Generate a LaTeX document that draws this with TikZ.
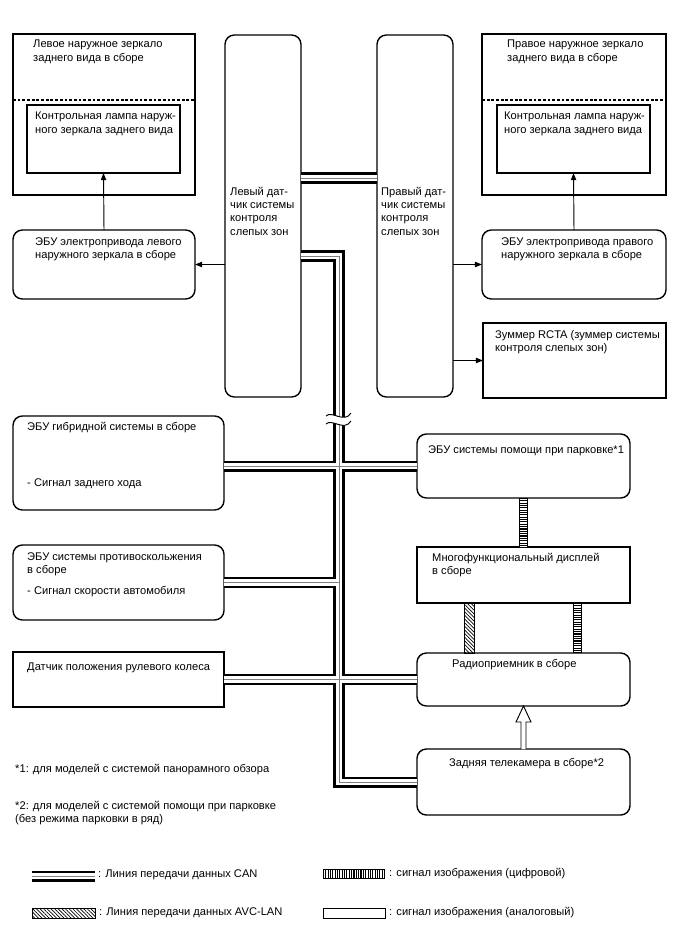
\documentclass[tikz,border=0pt]{standalone}
\usepackage{fontspec}
\setmainfont{Liberation Sans}
\usetikzlibrary{arrows.meta, calc, patterns.meta}
\newlength{\unitpx}
\setlength{\unitpx}{0.03cm}

\begin{document}
\begin{tikzpicture}[
  x=0.03cm, y=-0.03cm,
  font=\fontsize{9.5}{11.3}\selectfont,
  box/.style={draw, line width=1.2pt, inner sep=0pt, outer sep=0pt, anchor=north west},
  rbox/.style={box, rounded corners=8pt},
  lbl/.style={anchor=north west, inner sep=0pt, align=left},
  divider/.style={line width=1.2pt, dash pattern=on 2.4pt off 1.6pt},
  arr/.style={-{Triangle[length=6pt, width=4.5pt]}, line width=0.8pt},
  can/.style={draw=white, line width=5.4pt,
              preaction={draw=black, line width=9.4pt},
              postaction={draw=gray, line width=0.8pt}},
  dig/.style={draw=black, line width=6.8pt, dash pattern=on 0.9pt off 1.1pt,
              preaction={draw=black, solid, line width=8.4pt},
              preaction={draw=white, solid, line width=6.8pt}},
  avc/.style={draw, line width=0.8pt,
              pattern={Lines[angle=-45, distance=2.2pt, line width=0.6pt]}},
  ana/.style={draw, line width=0.8pt, fill=white}
]
\useasboundingbox (0,0) rectangle (688,949);

\node[box, minimum width=182\unitpx, minimum height=161\unitpx] (lmir) at (13,34) {};
\node[box, minimum width=153\unitpx, minimum height=68\unitpx] (llamp) at (27,105) {};
\node[rbox, minimum width=182\unitpx, minimum height=69\unitpx] (lecu) at (13,230) {};
\node[rbox, minimum width=76\unitpx, minimum height=362\unitpx] (lsens) at (225,35) {};
\node[rbox, minimum width=76\unitpx, minimum height=362\unitpx] (rsens) at (377,35) {};
\node[box, minimum width=184\unitpx, minimum height=161\unitpx] (rmir) at (482,34) {};
\node[box, minimum width=153\unitpx, minimum height=68\unitpx] (rlamp) at (497,105) {};
\node[rbox, minimum width=184\unitpx, minimum height=69\unitpx] (recu) at (482,230) {};
\node[box, minimum width=183\unitpx, minimum height=75\unitpx] (buzz) at (483,323) {};

\node[rbox, minimum width=211\unitpx, minimum height=94\unitpx] (hyb) at (13,416) {};
\node[rbox, minimum width=211\unitpx, minimum height=75\unitpx] (abs) at (13,545) {};
\node[box, minimum width=211\unitpx, minimum height=55\unitpx] (steer) at (13,652) {};
\node[rbox, minimum width=213\unitpx, minimum height=64\unitpx] (park) at (417,434) {};
\node[box, minimum width=213\unitpx, minimum height=56\unitpx] (disp) at (417,547) {};
\node[rbox, minimum width=213\unitpx, minimum height=53\unitpx] (radio) at (417,653) {};
\node[rbox, minimum width=213\unitpx, minimum height=66\unitpx] (cam) at (417,749) {};

\node[lbl] (lmir-t) at (33,40) {Левое наружное зеркало\\заднего вида в сборе};
\node[lbl] (llamp-t) at (35,112) {Контрольная лампа наруж-\\ного зеркала заднего вида};
\node[lbl] (lecu-t) at (35,237) {ЭБУ электропривода левого\\наружного зеркала в сборе};
\node[lbl] (lsens-t) at (230,187) {Левый дат-\\чик системы\\контроля\\слепых зон};
\node[lbl] (rsens-t) at (381,187) {Правый дат-\\чик системы\\контроля\\слепых зон};
\node[lbl] (rmir-t) at (507,40) {Правое наружное зеркало\\заднего вида в сборе};
\node[lbl] (rlamp-t) at (504,112) {Контрольная лампа наруж-\\ного зеркала заднего вида};
\node[lbl] (recu-t) at (501,237) {ЭБУ электропривода правого\\наружного зеркала в сборе};
\node[lbl] (buzz-t) at (495,330) {Зуммер RCTA (зуммер системы\\контроля слепых зон)};
\node[lbl] (hyb-t) at (27,422) {ЭБУ гибридной системы в сборе};
\node[lbl] (hyb-s) at (27,478) {- Сигнал заднего хода};
\node[lbl] (abs-t) at (27,552) {ЭБУ системы противоскольжения\\в сборе\\[7pt]- Сигнал скорости автомобиля};
\node[lbl] (steer-t) at (27,663) {Датчик положения рулевого колеса};
\node[lbl] (park-t) at (428,445) {ЭБУ системы помощи при парковке*1};
\node[lbl] (disp-t) at (432,553) {Многофункциональный дисплей\\в сборе};
\node[lbl] (radio-t) at (452,659) {Радиоприемник в сборе};
\node[lbl] (cam-t) at (449,758) {Задняя телекамера в сборе*2};

\draw[divider] ([yshift=-66\unitpx]lmir.north west) -- ([yshift=-66\unitpx]lmir.north east);
\draw[divider] ([yshift=-66\unitpx]rmir.north west) -- ([yshift=-66\unitpx]rmir.north east);

\draw[arr] (lecu.north) -- (llamp.south);
\draw[arr] (lsens.west |- lecu.east) -- (lecu.east);
\draw[arr] (recu.north) -- (rlamp.south);
\draw[arr] (rsens.east |- recu.west) -- (recu.west);
\draw[arr] (rsens.east |- buzz.west) -- (buzz.west);

\coordinate (bus) at (339,256);
\draw[can] ([yshift=38\unitpx]lsens.east) -- ([yshift=38\unitpx]rsens.west)
  ([yshift=-40\unitpx]lsens.east) -| (bus |- cam.west) -- (cam.west)
  (hyb.east |- park.west) -- (park.west)
  (abs.east) -- (bus |- abs.east)
  (steer.east) -- (radio.west);

\begin{scope}[shift={(339,420)}]
  \fill[white] (-13,-4) .. controls (-7,-10) and (5,4) .. (12,-7)
    -- (12,1) .. controls (5,12) and (-7,-2) .. (-13,4) -- cycle;
  \draw[line width=0.8pt] (-13,-4) .. controls (-7,-10) and (5,4) .. (12,-7);
  \draw[line width=0.8pt] (-13,4) .. controls (-7,-2) and (5,12) .. (12,1);
\end{scope}

\draw[dig] (park.south) -- (disp.north);
\draw[dig] ($(disp.south)+(54,0)$) -- ($(radio.north)+(54,0)$);
\draw[avc] ($(disp.south)+(-59,0)$) rectangle ($(radio.north)+(-49,0)$);
\draw[ana] ($(cam.north)+(-2.5,0)$) -- ($(radio.south)+(-2.5,16)$)
  -- ($(radio.south)+(-7.5,16)$) -- (radio.south) -- ($(radio.south)+(7.5,16)$)
  -- ($(radio.south)+(2.5,16)$) -- ($(cam.north)+(2.5,0)$);

\node[lbl] (fn1) at (15,764) {*1: для моделей с системой панорамного обзора};
\node[lbl] (fn2) at (15,801) {*2: для моделей с системой помощи при парковке\\(без режима парковки в ряд)};

\coordinate (lg-can-a) at (32,876);
\coordinate (lg-can-b) at (95,876);
\coordinate (lg-dig-a) at (323,874);
\coordinate (lg-dig-b) at (385,874);
\coordinate (lg-avc-a) at (32,908);
\coordinate (lg-avc-b) at (95,918);
\coordinate (lg-ana-a) at (323,908);
\coordinate (lg-ana-b) at (385,918);
\draw[can] (lg-can-a) -- (lg-can-b);
\draw[dig] (lg-dig-a) -- (lg-dig-b);
\draw[avc] (lg-avc-a) rectangle (lg-avc-b);
\draw[ana] (lg-ana-a) rectangle (lg-ana-b);
\node[lbl, anchor=west] (lg-can-t) at (98,875) {: Линия передачи данных CAN};
\node[lbl, anchor=west] (lg-dig-t) at (389,874) {: сигнал изображения (цифровой)};
\node[lbl, anchor=west] (lg-avc-t) at (99,913) {: Линия передачи данных AVC-LAN};
\node[lbl, anchor=west] (lg-ana-t) at (389,913) {: сигнал изображения (аналоговый)};

\end{tikzpicture}
\end{document}
